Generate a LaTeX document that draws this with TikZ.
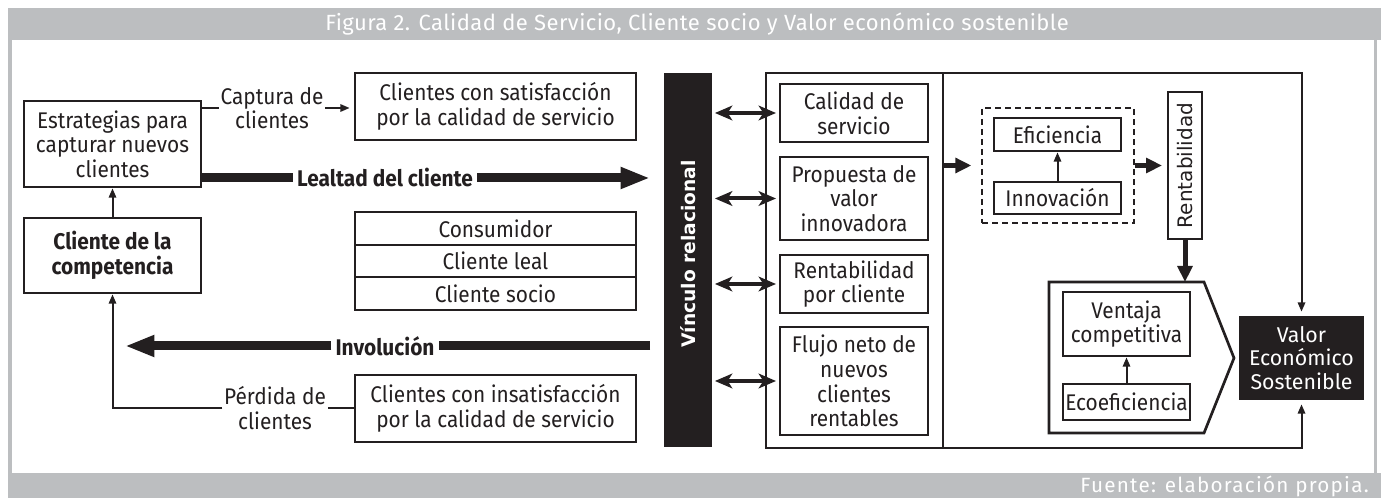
\documentclass[tikz,border=0pt]{standalone}
\usepackage{fontspec}
\setmainfont{Fira Sans}[FakeStretch=0.92]
\newfontfamily\plainfira{Fira Sans}
\newfontfamily\titlefont{Fira Sans}[LetterSpace=2]
\newfontfamily\srcfont{Fira Sans}[LetterSpace=6]
\newfontfamily\dejavu{DejaVu Sans}
\usetikzlibrary{arrows.meta}
\definecolor{hdr}{HTML}{BCBEC0}
\definecolor{ink}{HTML}{231F20}
\newcommand\mybox[7]{\node[#6, minimum width={(#4-#2)*0.75pt}, minimum height={(#5-#3)*0.75pt}] (#1) at ({(#2+#4)/2},{(#3+#5)/2}) {#7};}
\begin{document}
\begin{tikzpicture}[x=0.75pt,y=-0.75pt,
  txt/.style={font=\fontsize{17}{18.5}\selectfont, text=ink, align=center},
  box/.style={txt, draw=ink, line width=2pt, inner sep=0pt},
  bbox/.style={box, font=\fontsize{17}{18.5}\selectfont\bfseries},
  lbl/.style={txt, inner sep=1pt},
  blbl/.style={txt, font=\fontsize{17}{18.5}\selectfont\bfseries, fill=white, inner sep=3pt},
  outer/.style={draw=ink, line width=1.6pt},
  thinarr/.style={draw=ink, line width=1.5pt, -{Triangle[length=7pt,width=5.5pt]}},
  thinline/.style={draw=ink, line width=1.5pt},
  bigline/.style={draw=ink, line width=6.75pt},
  bigarr/.style={bigline, -{Triangle[length=22pt,width=15pt]}},
  medarr/.style={draw=ink, line width=3.75pt, -{Triangle[length=12pt,width=11pt]}},
  dblarr/.style={draw=ink, line width=3pt, {Stealth[length=13pt,width=11pt,inset=3.5pt]}-{Stealth[length=13pt,width=11pt,inset=3.5pt]}},
  dbox/.style={draw=ink, line width=2pt, dash pattern=on 4.5pt off 3pt, inner sep=0pt}
]
\useasboundingbox (0,0) rectangle (1381,498);
% frame
\fill[hdr] (8,8) rectangle (1381,40);
\fill[hdr] (8,40) rectangle (12,473);
\fill[hdr] (1374,40) rectangle (1377,473);
\fill[hdr] (8,473) rectangle (1381,498);
\node[text=white, inner sep=0pt, font=\titlefont\fontsize{16.5}{17}\selectfont] (title) at (697,24) {Figura 2. Calidad de Servicio, Cliente socio y Valor económico sostenible};
\node[text=white, inner sep=0pt, anchor=east, font=\srcfont\fontsize{15.5}{17}\selectfont] (src) at (1369,486) {Fuente: elaboración propia.};

% left part
\mybox{A}{24}{101}{201}{187}{box}{Estrategias para\\capturar nuevos\\clientes}
\mybox{B}{355}{73}{636}{140}{box}{Clientes con satisfacción\\por la calidad de servicio}
\mybox{C}{24}{218}{201}{293}{bbox}{Cliente de la\\competencia}
\mybox{s1}{355}{212}{636}{245}{box}{Consumidor}
\mybox{s2}{355}{245}{636}{277}{box}{Cliente leal}
\mybox{s3}{355}{277}{636}{310}{box}{Cliente socio}
\mybox{D}{355}{375}{636}{442}{box}{Clientes con insatisfacción\\por la calidad de servicio}
\node[lbl] (cap) at (272,108) {Captura de\\clientes};
\node[lbl] (per) at (275,408) {Pérdida de\\clientes};
\node[blbl] (leal) at (385,178) {Lealtad del cliente};
\node[blbl] (inv) at (385,346) {Involución};
\coordinate (lealtip) at (650,178);
\coordinate (invstart) at (650,346);
\coordinate (invtip) at (125,346);

\draw[thinline] (A.east |- cap.west) -- (cap.west);
\draw[thinarr, shorten >=3pt] (cap.east) -- (B.west |- cap.east);
\draw[bigline] (A.east |- leal.west) -- (leal.west);
\draw[bigarr] (leal.east) -- (lealtip);
\draw[bigline] (invstart) -- (inv.east);
\draw[bigarr] (inv.west) -- (invtip);
\draw[thinarr] (C.north) -- (A.south);
\draw[thinline] (D.west) -- (per.east |- D.west);
\draw[thinarr] (per.west |- D.west) -- (C.south |- D.west) -- (C.south);

% bar
\node[fill=ink, text=white, rotate=90, minimum width=280.5pt, minimum height=36pt, inner sep=0pt,
  font=\dejavu\bfseries\fontsize{14}{15}\selectfont] (vinc) at (688,260) {\hspace*{9pt}Vínculo relacional};

% outer box
\draw[outer] (766,73) rectangle (943,448);
\mybox{i1}{780}{84}{928}{142}{box}{Calidad de\\servicio}
\mybox{i2}{780}{157}{928}{240}{box}{Propuesta de\\valor\\innovadora}
\mybox{i3}{780}{255}{928}{313}{box}{Rentabilidad\\por cliente}
\mybox{i4}{780}{327}{928}{435}{box}{Flujo neto de\\nuevos\\clientes\\rentables}
\foreach \n in {i1,i2,i3,i4}
  \draw[dblarr, shorten <=2pt, shorten >=2pt] (\n.west -| vinc.south) -- (\n.west);

% right section
\mybox{dash}{982}{108}{1134}{223}{dbox}{}
\mybox{efi}{994}{118}{1121}{151}{box}{Eficiencia}
\mybox{inn}{994}{182}{1121}{214}{box}{Innovación}
\draw[thinarr] (inn.north) -- (efi.south);
\coordinate (div) at (943,165.5);
\draw[medarr, shorten >=7pt] (div) -- (dash.west);

\node[draw=ink, line width=2pt, rotate=90, minimum width=110.25pt, minimum height=25.5pt, inner sep=0pt,
  text=ink, font=\dejavu\fontsize{15}{16}\selectfont] (rent) at (1185,165.5) {Rentabilidad};
\draw[medarr, shorten >=3.5pt] (dash.east) -- (dash.east -| rent.north);

\draw[draw=ink, line width=2pt] (1049,282) -- (1204,282) -- (1234,358) -- (1204,433) -- (1049,433) -- cycle;
\coordinate (pentop) at (1185,282);
\draw[medarr] (rent.west) -- (pentop);
\mybox{ven}{1063}{292}{1190}{356}{box}{Ventaja\\competitiva}
\mybox{eco}{1063}{384}{1190}{420}{box}{Ecoeficiencia}
\draw[thinarr] (eco.north) -- (ven.south);

\node[fill=ink, text=white, minimum width=93.75pt, minimum height=63pt, inner sep=0pt, align=center,
  font=\plainfira\fontsize{16}{17.6}\selectfont] (valor) at (1301.5,358) {Valor\\Económico\\Sostenible};
\coordinate (otop) at (943,73);
\coordinate (obot) at (943,448);
\draw[thinarr, shorten >=3pt] (otop) -- (otop -| valor.north) -- (valor.north);
\draw[thinarr, shorten >=3pt] (obot) -- (obot -| valor.south) -- (valor.south);
\end{tikzpicture}
\end{document}
